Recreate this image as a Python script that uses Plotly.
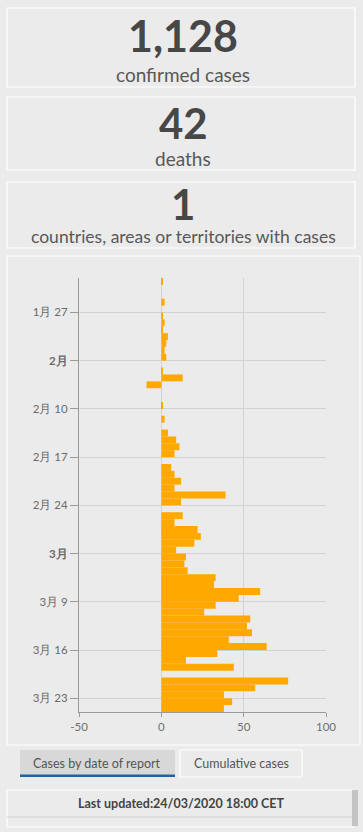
import datetime as dt
import plotly.graph_objects as go

W, H = 363, 832

# ---------------- data ----------------
start_date = "2020-01-22"
daily_cases = [1, 0, 0, 2, 0, 1, 2, 1, 4, 3,
               2, 3, 0, 1, 13, -9, 0, 0, 1, 0,
               2, 0, 4, 9, 11, 8, 0, 6, 8, 12,
               8, 39, 12, 0, 13, 8, 22, 24, 20, 9,
               15, 14, 16, 33, 32, 60, 47, 33, 26, 54,
               52, 55, 41, 64, 34, 15, 44, 0, 77, 57,
               38, 43, 38]
tick_dates = ["2020-01-27", "2020-02-03", "2020-02-10", "2020-02-17", "2020-02-24",
              "2020-03-02", "2020-03-09", "2020-03-16", "2020-03-23"]
tick_labels = ["1月 27", "<b>2月</b>", "2月 10", "2月 17", "2月 24",
               "<b>3月</b>", "3月 9", "3月 16", "3月 23"]
x_ticks = [-50, 0, 50, 100]
total_confirmed = "1,128"
total_deaths = "42"
total_countries = "1"

d0 = dt.date.fromisoformat(start_date)
dates = [(d0 + dt.timedelta(days=i)).isoformat() for i in range(len(daily_cases))]
range_end = (d0 + dt.timedelta(days=len(daily_cases))).isoformat()

# ---------------- helpers ----------------
def px(x):
    return x / W

def py(y):
    return 1 - y / H

BG = "#ebebeb"
FONT = "Lato"

fig = go.Figure()
fig.add_trace(go.Bar(
    x=daily_cases, y=dates, orientation="h",
    width=86400000, offset=0,
    marker=dict(color="#FFA800", line=dict(width=0)),
    hoverinfo="x+y",
))

shapes = []
def box(x0, y0, x1, y1, fill=BG, line="white", lw=1.2):
    shapes.append(dict(type="rect", xref="paper", yref="paper",
                       x0=px(x0), x1=px(x1), y0=py(y1), y1=py(y0),
                       fillcolor=fill, line=dict(color=line, width=lw), layer="below"))

box(7, 8, 355, 87)
box(7, 97, 355, 170)
box(7, 182, 355, 248)
box(7, 256, 360, 745)
# tabs
box(20, 750, 175, 776, fill="#d8d8d8", line="#d8d8d8", lw=0)
shapes.append(dict(type="rect", xref="paper", yref="paper",
                   x0=px(20), x1=px(175), y0=py(777), y1=py(774.5),
                   fillcolor="#22639f", line=dict(width=0)))
box(180, 750, 302, 777)
# bottom panel
box(7, 790, 354, 827)
shapes.append(dict(type="line", xref="paper", yref="paper",
                   x0=px(7), x1=px(352), y0=py(817), y1=py(817),
                   line=dict(color="#cfcfcf", width=1)))
shapes.append(dict(type="rect", xref="paper", yref="paper",
                   x0=px(352), x1=px(358), y0=py(826), y1=py(790),
                   fillcolor="#c4c4c4", line=dict(width=0)))

annotations = []
def text(x, y, s, size, color="#4a4a4a", family=FONT):
    annotations.append(dict(xref="paper", yref="paper", x=px(x), y=py(y),
                            xanchor="center", yanchor="middle", showarrow=False,
                            text=s, font=dict(size=size, color=color, family=family)))

text(183, 36, f"<b>{total_confirmed}</b>", 43, "#474747")
text(183, 74, "confirmed cases", 19, "#585858")
text(183, 123, f"<b>{total_deaths}</b>", 42, "#474747")
text(183, 159, "deaths", 19, "#585858")
text(183, 204, f"<b>{total_countries}</b>", 42, "#474747")
text(183, 236, "countries, areas or territories with cases", 17.5, "#585858")
text(97, 763, "Cases by date of report", 12.5, "#555555")
text(241, 763, "Cumulative cases", 12.5, "#555555")
text(182, 803, "<b>Last updated:24/03/2020 18:00 CET</b>", 12.5, "#444444")

fig.update_layout(
    width=W, height=H, autosize=False,
    margin=dict(l=0, r=0, t=0, b=0, autoexpand=False),
    paper_bgcolor=BG, plot_bgcolor=BG,
    showlegend=False,
    shapes=shapes, annotations=annotations,
    font=dict(family=FONT, color="#666666"),
    xaxis=dict(
        domain=[px(79), px(326)], range=[-50, 100], automargin=False,
        tickvals=x_ticks, ticktext=[str(v) for v in x_ticks],
        showgrid=True, gridcolor="#d2d2d2", gridwidth=1,
        zeroline=True, zerolinecolor="#d2d2d2", zerolinewidth=1,
        showline=True, linecolor="#9a9a9a", linewidth=1,
        ticks="outside", ticklen=4, tickcolor="#9a9a9a",
        tickfont=dict(size=11.5, color="#707070", family=FONT),
        fixedrange=True,
    ),
    yaxis=dict(
        domain=[py(712), py(278)], type="date", automargin=False,
        range=[range_end, start_date],
        tickvals=tick_dates, ticktext=tick_labels,
        showgrid=True, gridcolor="#d2d2d2", gridwidth=1,
        showline=True, linecolor="#9a9a9a", linewidth=1,
        ticks="outside", ticklen=8, tickcolor="#9a9a9a",
        tickfont=dict(size=11.5, color="#6a6a6a", family=FONT),
        fixedrange=True,
    ),
)

fig.write_html(
    "out.html",
    config={"responsive": False, "displayModeBar": False},
    post_script="document.body.style.margin='0';document.body.style.overflow='hidden';",
)
